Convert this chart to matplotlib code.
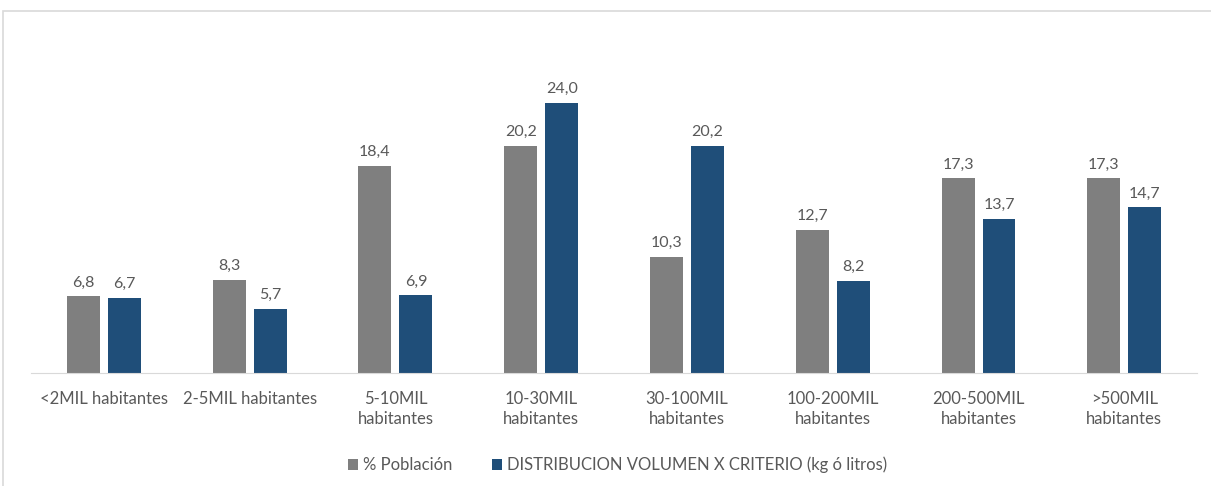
import numpy as np
from matplotlib import pyplot as plt
from matplotlib.patches import Rectangle

categories = ["<2MIL habitantes", "2-5MIL habitantes", "5-10MIL\nhabitantes",
              "10-30MIL\nhabitantes", "30-100MIL\nhabitantes", "100-200MIL\nhabitantes",
              "200-500MIL\nhabitantes", ">500MIL\nhabitantes"]
poblacion = [6.8, 8.3, 18.4, 20.2, 10.3, 12.7, 17.3, 17.3]
distribucion = [6.7, 5.7, 6.9, 24.0, 20.2, 8.2, 13.7, 14.7]
series_names = ["% Población", "DISTRIBUCION VOLUMEN X CRITERIO (kg ó litros)"]

GRAY = "#7f7f7f"
BLUE = "#1f4e79"
TEXT = "#595959"


def main():
    plt.rcParams['font.family'] = ['Lato', 'DejaVu Sans']

    fig = plt.figure(figsize=(12.11, 4.86), dpi=100)
    ax = fig.add_axes([0.0256, 0.2325, 0.963, 0.695])

    # outer frame of the chart object
    fig.patches.append(Rectangle((3 / 1211, -0.1), 1.2, 1.1 - 11 / 486,
                                 transform=fig.transFigure, fill=False,
                                 edgecolor="#d9d9d9", linewidth=1.2))

    x = np.arange(len(categories))
    w = 0.226
    gap = 0.055
    b1 = ax.bar(x - (w + gap) / 2, poblacion, width=w, color=GRAY, label=series_names[0])
    b2 = ax.bar(x + (w + gap) / 2, distribucion, width=w, color=BLUE, label=series_names[1])

    for bars, vals in ((b1, poblacion), (b2, distribucion)):
        for rect, v in zip(bars, vals):
            ax.text(rect.get_x() + rect.get_width() / 2, v + 0.6,
                    f"{v:.1f}".replace(".", ","), ha="center", va="bottom",
                    fontsize=11.5, color=TEXT)

    ax.set_xlim(-0.5, len(categories) - 0.5)
    ax.set_ylim(0, 30)
    ax.set_yticks([])
    ax.set_xticks(x)
    ax.set_xticklabels(categories, fontsize=12, color=TEXT, linespacing=1.3)
    ax.tick_params(axis="x", length=0, pad=13)
    for s in ("top", "right", "left"):
        ax.spines[s].set_visible(False)
    ax.spines["bottom"].set_color("#d9d9d9")

    fig.legend(handles=[b1, b2], loc="center", bbox_to_anchor=(0.51, 0.043),
               ncol=2, frameon=False, fontsize=12, labelcolor=TEXT,
               handlelength=0.6, handleheight=0.6, handletextpad=0.3,
               columnspacing=2.4)

    fig.savefig("out.png", dpi=100)


if __name__ == "__main__":
    main()
